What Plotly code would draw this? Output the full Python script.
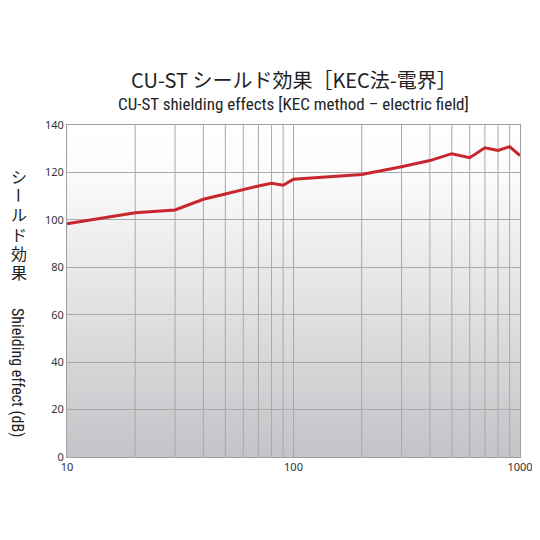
import base64

import plotly.graph_objs as go

# shielding effect readings (frequency in MHz, effect in dB)
freq = [10, 20, 30, 40, 50, 60, 70, 80, 90, 100, 200, 300, 400, 500, 600, 700, 800, 900, 1000]
shield_db = [98.3, 103.0, 104.2, 108.7, 110.9, 112.9, 114.3, 115.4, 114.6, 117.1,
             119.1, 122.4, 125.0, 127.9, 126.2, 130.4, 129.3, 130.9, 127.1]

x_ticks = [10, 100, 1000]
y_ticks = [0, 20, 40, 60, 80, 100, 120, 140]
x_grid = [20, 30, 40, 50, 60, 70, 80, 90, 200, 300, 400, 500, 600, 700, 800, 900]

title_jp = "CU-ST シールド効果［KEC法-電界］"
title_en = "CU-ST shielding effects [KEC method – electric field]"
ylabel_jp = "シールド効果"
ylabel_en = "Shielding effect (dB)"

# page body has an 8px margin, so work in screen pixels and shift
OFF = 8
W, H = 532, 532
ML, MT = 67 - OFF, 125 - OFF
MR = W - (520 - OFF)
MB = H - (457 - OFF)
pw = W - ML - MR
ph = H - MT - MB


def px(xs):
    return (xs - OFF - ML) / pw


def py(ys):
    return (H - MB - (ys - OFF)) / ph


fig = go.Figure()
fig.add_scatter(x=freq, y=shield_db, mode='lines',
                line=dict(color='#c8262d', width=3), showlegend=False)

# white-to-grey gradient behind the plot area
svg = ('<svg xmlns="http://www.w3.org/2000/svg" width="10" height="100" preserveAspectRatio="none">'
       '<defs><linearGradient id="g" x1="0" y1="0" x2="0" y2="1">'
       '<stop offset="0" stop-color="#ffffff"/><stop offset="0.15" stop-color="#fbfbfb"/>'
       '<stop offset="1" stop-color="#c2c4c7"/></linearGradient></defs>'
       '<rect width="10" height="100" fill="url(#g)"/></svg>')
bg_src = 'data:image/svg+xml;base64,' + base64.b64encode(svg.encode()).decode()

shapes = []
for xv in x_grid:
    shapes.append(dict(type='line', xref='x', yref='paper', layer='below',
                       x0=xv, x1=xv, y0=0, y1=1,
                       line=dict(color='#a9a9a9', width=1)))

annotations = [
    dict(text=title_jp, x=0.5, y=py(79), xref='paper', yref='paper', showarrow=False,
         xanchor='center', yanchor='middle',
         font=dict(family='Noto Sans CJK JP', size=20, color='#222')),
    dict(text=title_en, x=0.5, y=py(104), xref='paper', yref='paper', showarrow=False,
         xanchor='center', yanchor='middle',
         font=dict(family='Liberation Sans Narrow, Roboto Condensed, Noto Sans', size=17, color='#222')),
    dict(text=ylabel_en, textangle=90, x=px(18), y=py(372), xref='paper', yref='paper', showarrow=False,
         xanchor='center', yanchor='middle',
         font=dict(family='Liberation Sans Narrow, Roboto Condensed, Noto Sans', size=16, color='#222')),
]

# vertical japanese label, one character per row
for i, ch in enumerate(ylabel_jp):
    ys = 176 + i * 19.2
    annotations.append(dict(text=ch, x=px(19), y=py(ys),
                            xref='paper', yref='paper', showarrow=False,
                            xanchor='center', yanchor='middle', borderpad=0,
                            textangle=90 if ch == 'ー' else 0,
                            font=dict(family='Noto Sans CJK JP', size=16, color='#222')))

fig.update_layout(
    width=W, height=H,
    margin=dict(l=ML, r=MR, t=MT, b=MB),
    paper_bgcolor='white',
    plot_bgcolor='rgba(0,0,0,0)',
    shapes=shapes,
    annotations=annotations,
    images=[dict(source=bg_src, xref='paper', yref='paper', x=0, y=1, sizex=1, sizey=1,
                 xanchor='left', yanchor='top', sizing='stretch', layer='below')],
    xaxis=dict(type='log', range=[1, 3], tickvals=x_ticks, ticktext=[str(v) for v in x_ticks],
               showgrid=True, gridcolor='#a9a9a9', gridwidth=1, automargin=False,
               showline=True, linecolor='#a0a0a0', mirror=True, zeroline=False,
               ticks='', tickfont=dict(family='Noto Sans', size=11, color='#333')),
    yaxis=dict(range=[0, 140], tickvals=y_ticks, automargin=False,
               showgrid=True, gridcolor='#a9a9a9', gridwidth=1,
               showline=True, linecolor='#a0a0a0', mirror=True, zeroline=False,
               ticks='', tickfont=dict(family='Noto Sans', size=11, color='#333')),
)

fig.write_html("out.html")
